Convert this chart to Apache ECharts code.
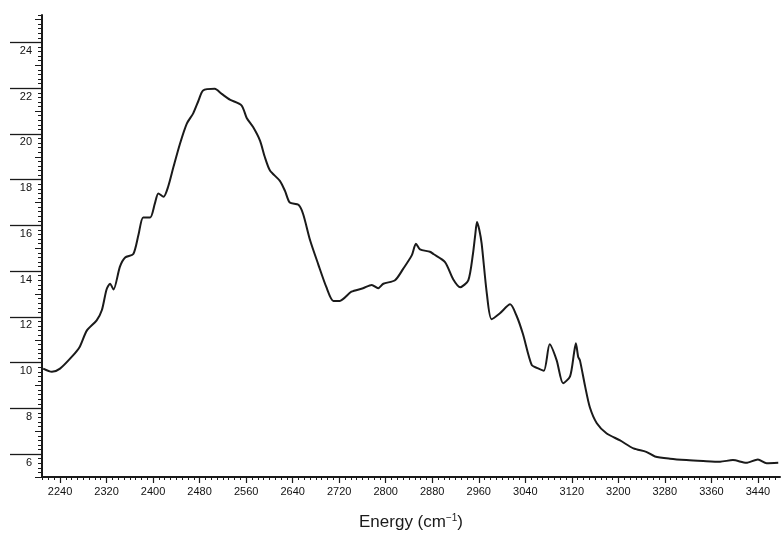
<!DOCTYPE html>
<html><head><meta charset="utf-8">
<script src="https://cdn.jsdelivr.net/npm/echarts@6/dist/echarts.min.js"></script>
<style>html,body{margin:0;padding:0;background:#fff}#c{width:783px;height:540px}</style>
</head><body><div id="c"></div>
<script>
const energy = [2211,2226,2240,2260,2274,2286,2303,2312,2320,2326,2332,2343,2352,2366,2375,2383,2395,2403,2409,2418,2426,2435,2446,2458,2469,2478,2486,2506,2518,2532,2552,2561,2572,2584,2592,2601,2618,2627,2635,2650,2658,2670,2684,2698,2710,2721,2741,2761,2776,2787,2796,2816,2830,2845,2852,2859,2876,2882,2902,2916,2928,2942,2950,2954,2957,2961,2965,2974,2982,2996,3014,3025,3036,3051,3062,3072,3082,3094,3105,3117,3124,3127,3131,3134,3143,3151,3163,3180,3203,3226,3248,3263,3289,3317,3346,3375,3397,3420,3440,3455,3475];
const intensity = [9.74,9.6,9.74,10.25,10.7,11.4,11.85,12.3,13.2,13.45,13.2,14.2,14.6,14.75,15.6,16.35,16.35,16.95,17.4,17.25,17.7,18.55,19.55,20.45,20.9,21.45,21.9,21.97,21.75,21.5,21.25,20.7,20.3,19.7,19.0,18.4,17.95,17.5,17.0,16.9,16.5,15.35,14.3,13.3,12.7,12.7,13.1,13.25,13.4,13.25,13.45,13.6,14.1,14.7,15.2,14.95,14.85,14.75,14.4,13.65,13.3,13.6,14.75,15.6,16.15,15.8,15.2,13.0,11.9,12.15,12.55,12.05,11.25,9.9,9.75,9.65,10.8,10.1,9.1,9.4,10.45,10.85,10.25,10.1,8.95,8.05,7.35,6.9,6.6,6.25,6.1,5.9,5.8,5.74,5.7,5.67,5.74,5.62,5.77,5.6,5.62];
const xTickLabels = [2240,2320,2400,2480,2560,2640,2720,2800,2880,2960,3040,3120,3200,3280,3360,3440];
const yTickLabels = [6,8,10,12,14,16,18,20,22,24];
const xTitle = 'Energy (cm{sup|−1})';

const X_MIN = 2209, X_MAX = 3478, Y_MIN = 5, Y_MAX = 25.2;
const xMinor = []; for (let v = 2210; v <= 3470; v += 10) xMinor.push(v);
const yMinor = []; for (let k = 26; k <= 126; k++) yMinor.push(+(k * 0.2).toFixed(1));
const yMid = []; for (let v = 5; v <= 25; v += 1) yMid.push(v);

const ink = '#1a1a1a';
const plain = v => String(v);
const chart = echarts.init(document.getElementById('c'), null, {renderer: 'canvas'});
chart.setOption({
  animation: false,
  backgroundColor: '#fff',
  grid: {left: 42, right: 3, top: 15, bottom: 63, outerBoundsMode: 'none'},
  xAxis: [
    {type: 'value', min: X_MIN, max: X_MAX, position: 'bottom',
     axisLine: {onZero: false, lineStyle: {color: ink, width: 2}},
     axisTick: {customValues: xTickLabels, length: 6, lineStyle: {color: ink, width: 1.2}},
     axisLabel: {customValues: xTickLabels, formatter: plain, fontSize: 11, color: '#111', margin: 9, fontFamily: 'Liberation Sans'},
     splitLine: {show: false},
     name: xTitle, nameLocation: 'middle', nameGap: 36,
     nameTextStyle: {fontSize: 17, color: '#1a1a1a', fontFamily: 'Liberation Sans',
       rich: {sup: {fontSize: 10, color: '#1a1a1a', fontFamily: 'Liberation Sans', verticalAlign: 'top', padding: [0, 0, 8, 0]}}}},
    {type: 'value', min: X_MIN, max: X_MAX, position: 'bottom',
     axisLine: {show: false}, axisLabel: {show: false}, splitLine: {show: false},
     axisTick: {customValues: xMinor, length: 3, lineStyle: {color: ink, width: 1}}}
  ],
  yAxis: [
    {type: 'value', min: Y_MIN, max: Y_MAX, position: 'left',
     axisLine: {onZero: false, lineStyle: {color: ink, width: 2}},
     axisTick: {customValues: yTickLabels, length: 32, lineStyle: {color: ink, width: 1.3}},
     axisLabel: {customValues: yTickLabels, formatter: plain, fontSize: 11, color: '#111', margin: 10, verticalAlign: 'top', padding: [3, 0, 0, 0], fontFamily: 'Liberation Sans'},
     splitLine: {show: false}},
    {type: 'value', min: Y_MIN, max: Y_MAX, position: 'left',
     axisLine: {show: false}, axisLabel: {show: false}, splitLine: {show: false},
     axisTick: {customValues: yMinor, length: 4, lineStyle: {color: ink, width: 1}}},
    {type: 'value', min: Y_MIN, max: Y_MAX, position: 'left',
     axisLine: {show: false}, axisLabel: {show: false}, splitLine: {show: false},
     axisTick: {customValues: yMid, length: 7, lineStyle: {color: ink, width: 1}}}
  ],
  series: [{
    type: 'line', xAxisIndex: 0, yAxisIndex: 0,
    data: energy.map((e, i) => [e, intensity[i]]),
    showSymbol: false, smooth: 0.25,
    lineStyle: {color: ink, width: 2}
  }]
});
</script></body></html>
